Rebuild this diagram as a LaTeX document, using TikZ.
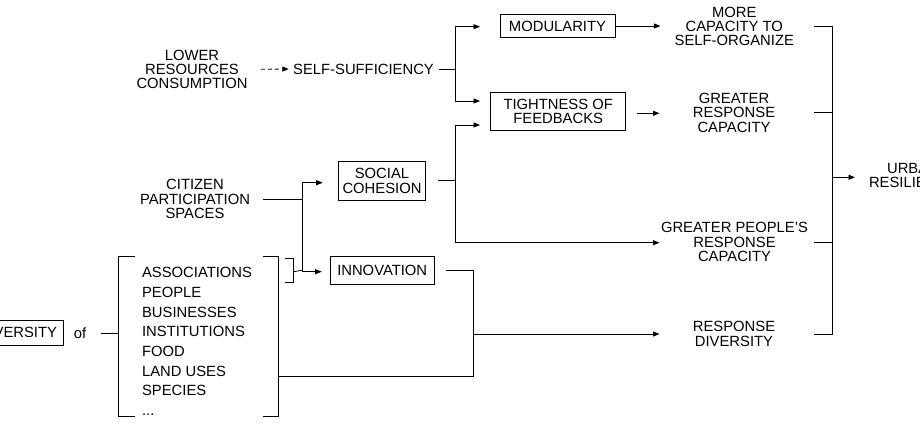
\documentclass[tikz,border=0pt]{standalone}
\usepackage{fontspec}
\setmainfont{Liberation Sans}
\usetikzlibrary{arrows.meta,positioning}

\tikzset{
	lbl/.style={align=center, inner sep=0pt, font=\fontsize{14.8}{14.3}\selectfont},
	boxed/.style={lbl, draw, line width=0.8pt},
	arr/.style={-{Triangle[length=6.5pt,width=5pt]}},
	dashline/.style={dash pattern=on 4pt off 3pt},
}

\begin{document}
\begin{tikzpicture}[x=1pt, y=-1pt, line width=0.8pt]
		\clip (0,0) rectangle (920,425);

		\node[lbl] (lower) at (192,69.3) {LOWER\\RESOURCES\\CONSUMPTION};
		\node[lbl] (self) at (363.5,69) {SELF-SUFFICIENCY};
		\node[boxed, minimum width=115pt, minimum height=22.5pt] (modul) at (557.5,26) {MODULARITY};
		\node[boxed, minimum width=135pt, minimum height=37.5pt] (tight) at (558.2,111.3) {TIGHTNESS OF\\FEEDBACKS};
		\node[lbl] (more) at (734.3,26.3) {MORE\\CAPACITY TO\\SELF-ORGANIZE};
		\node[lbl] (greater) at (734,112.8) {GREATER\\RESPONSE\\CAPACITY};
		\node[lbl] (people) at (734.5,242.2) {GREATER PEOPLE'S\\RESPONSE\\CAPACITY};
		\node[lbl] (respdiv) at (734,334) {RESPONSE\\DIVERSITY};
		\node[lbl] (urban) at (913,175.5) {URBAN\\RESILIENCE};
		\node[lbl] (citizen) at (195,199.2) {CITIZEN\\PARTICIPATION\\SPACES};
		\node[boxed, minimum width=87.5pt, minimum height=38.5pt] (social) at (382,180.8) {SOCIAL\\COHESION};
		\node[boxed, minimum width=104.5pt, minimum height=28.5pt] (innov) at (382.2,270.2) {INNOVATION};
		\node[boxed, minimum width=90pt, minimum height=24.3pt, anchor=east] (divers) at (63.3,332.9) {DIVERSITY};
		\node[lbl] (of) at (80,333) {of};
		\node[lbl, align=left, anchor=north west, font=\fontsize{14.8}{19.7}\selectfont] (items) at (141.7,267) {ASSOCIATIONS\\PEOPLE\\BUSINESSES\\INSTITUTIONS\\FOOD\\LAND USES\\SPECIES\\...};

		\coordinate (sj) at (455,69);
		\coordinate (modtip) at (480,0);
		\coordinate (outtip) at (659.5,0);
		\coordinate (rs) at (814,0);
		\coordinate (rv) at (832,0);
		\coordinate (utip) at (855,0);
		\coordinate (cx) at (302.6,0);
		\coordinate (ij) at (473.3,272.3);
		\coordinate (lowj) at (473.3,376.7);
		\coordinate (lbr) at (278.3,376.7);
		\coordinate (lbx) at (118.3,0);

		\draw[arr, dashline, shorten <=13pt, shorten >=4pt] (lower.east) -- (self.west);
		\draw[shorten <=5pt] (self.east) -- (sj);
		\draw[arr] (sj) |- ([yshift=-0.7pt]modul.west -| modtip);
		\draw[arr] (sj) |- ([yshift=10.3pt]tight.west -| modtip);
		\draw[shorten <=12.3pt] (social.east) -- (social.east -| sj) coordinate (sc);
		\draw[arr] (sc) |- ([yshift=-13.7pt]tight.west -| modtip);
		\draw[arr] (sc) |- ([yshift=-0.5pt]people.west -| outtip);
		\draw[arr, shorten >=19pt] (modul.east) -- ++(64,0);
		\draw[arr] ([xshift=10.7pt,yshift=-2pt]tight.east) -- ([yshift=-2pt]tight.east -| outtip);

		\draw (more.east -| rs) -- (more.east -| rv) -- (respdiv.east -| rv) -- (respdiv.east -| rs);
		\draw (greater.east -| rs) -- (greater.east -| rv);
		\draw (people.east -| rs) -- (people.east -| rv);
		\draw[arr] ([yshift=-1.8pt]urban.west -| rv) -- ([yshift=-1.8pt]urban.west -| utip);

		\draw (citizen.east -| {(263.3,0)}) -- (citizen.east -| cx) coordinate (cj);
		\draw[arr] (cj) |- ([yshift=-1.9pt]social.west -| {(322.7,0)});
		\draw[arr] (cj) |- ([yshift=-1.5pt]innov.west -| {(321.7,0)});
		\draw (285,258.3) -- (293.3,258.3) -- (293.3,282.7) -- (285,282.7);
		\draw (293.3,271.7) -- (cx |- innov.west);

		\draw[shorten <=10.7pt] (innov.east) -| (lowj) -- (lbr);
		\draw[arr] (ij |- respdiv.west) -- (respdiv.west -| outtip);

		\draw (135,256.7) -- (118.3,256.7) -- (118.3,416.7) -- (135,416.7);
		\draw (263.3,256.7) -- (278.3,256.7) -- (278.3,416.7) -- (263.3,416.7);
		\draw[shorten <=14pt] (of.east) -- (of.east -| lbx);
\end{tikzpicture}
\end{document}
